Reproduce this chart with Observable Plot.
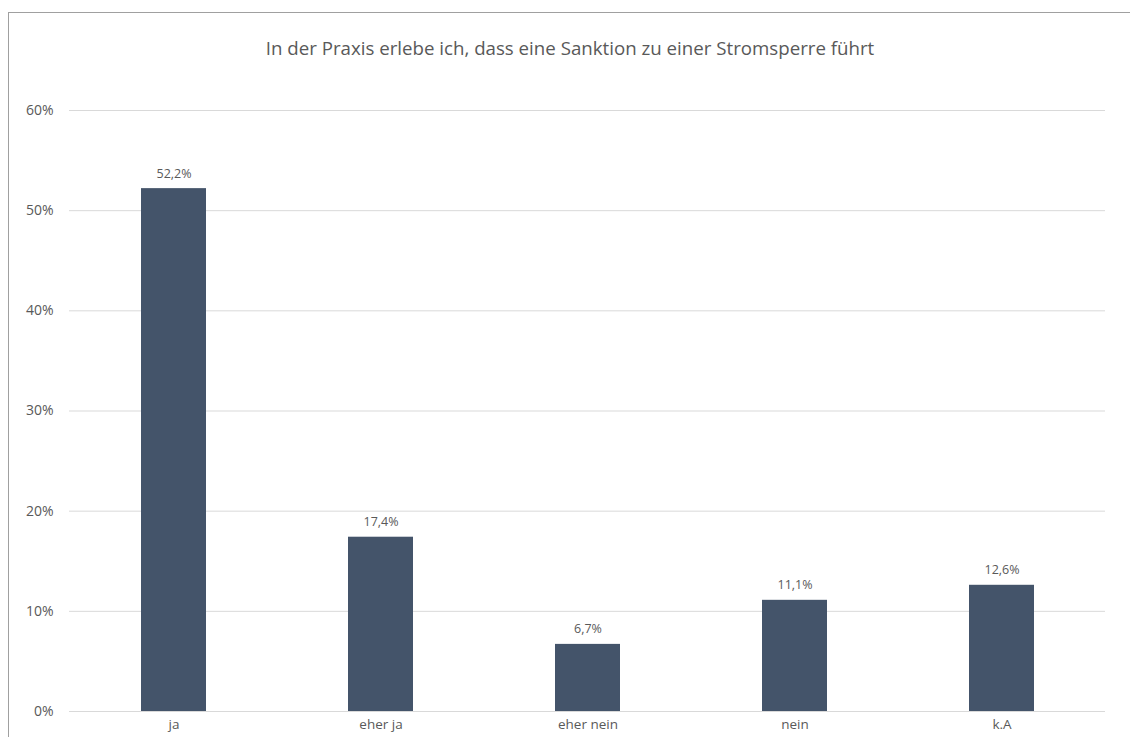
<!DOCTYPE html>
<html>
<head>
<meta charset="utf-8">
<script src="https://cdn.jsdelivr.net/npm/d3@7"></script>
<script src="https://cdn.jsdelivr.net/npm/@observablehq/plot@0.6"></script>
<style>
  html, body { margin: 0; padding: 0; background: #fff; }
  #wrap { position: relative; width: 1130px; height: 737px; overflow: hidden; }
  #frame { position: absolute; left: 8px; top: 12px; width: 1200px; height: 800px;
           border-left: 1.5px solid #a0a0a0; border-top: 1.5px solid #a0a0a0; box-sizing: border-box; }
  #title { position: absolute; left: 0; width: 1140px; top: 35px; text-align: center;
           font-family: "Open Sans", sans-serif; font-size: 18.7px; color: #595959; }
  #chart { position: absolute; left: 0; top: 0; }
</style>
</head>
<body>
<div id="wrap">
  <div id="chart"></div>
  <div id="frame"></div>
  <div id="title">In der Praxis erlebe ich, dass eine Sanktion zu einer Stromsperre führt</div>
</div>
<script>
const categories = ["ja", "eher ja", "eher nein", "nein", "k.A"];
const values = [0.522, 0.174, 0.067, 0.111, 0.126];
const yTicks = [0, 0.1, 0.2, 0.3, 0.4, 0.5, 0.6];

const data = categories.map((c, i) => ({category: c, value: values[i]}));
const pct = v => d3.format(".0%")(v);
const lbl = v => d3.format(".1%")(v).replace(".", ",");

const chart = Plot.plot({
  width: 1130,
  height: 737,
  marginLeft: 69,
  marginRight: 25,
  marginTop: 110,
  marginBottom: 26,
  style: { fontFamily: "Open Sans, sans-serif", color: "#595959", background: "transparent" },
  x: { domain: categories, paddingInner: 0.686, paddingOuter: 0.343, label: null },
  y: { domain: [0, 0.6], label: null },
  marks: [
    Plot.gridY(yTicks, { stroke: "#d9d9d9", strokeOpacity: 1, strokeWidth: 1 }),
    Plot.axisY(yTicks, { tickFormat: pct, tickSize: 0, tickPadding: 16, fontSize: 14, fill: "#595959", label: null }),
    Plot.axisX({ tickSize: 0, tickPadding: 8, fontSize: 13.5, fill: "#595959", label: null }),
    Plot.barY(data, { x: "category", y: "value", fill: "#44546A" }),
    Plot.text(data, { x: "category", y: "value", text: d => lbl(d.value), dy: -15, fontSize: 12.5, fill: "#595959" })
  ]
});
document.getElementById("chart").appendChild(chart);
</script>
</body>
</html>
